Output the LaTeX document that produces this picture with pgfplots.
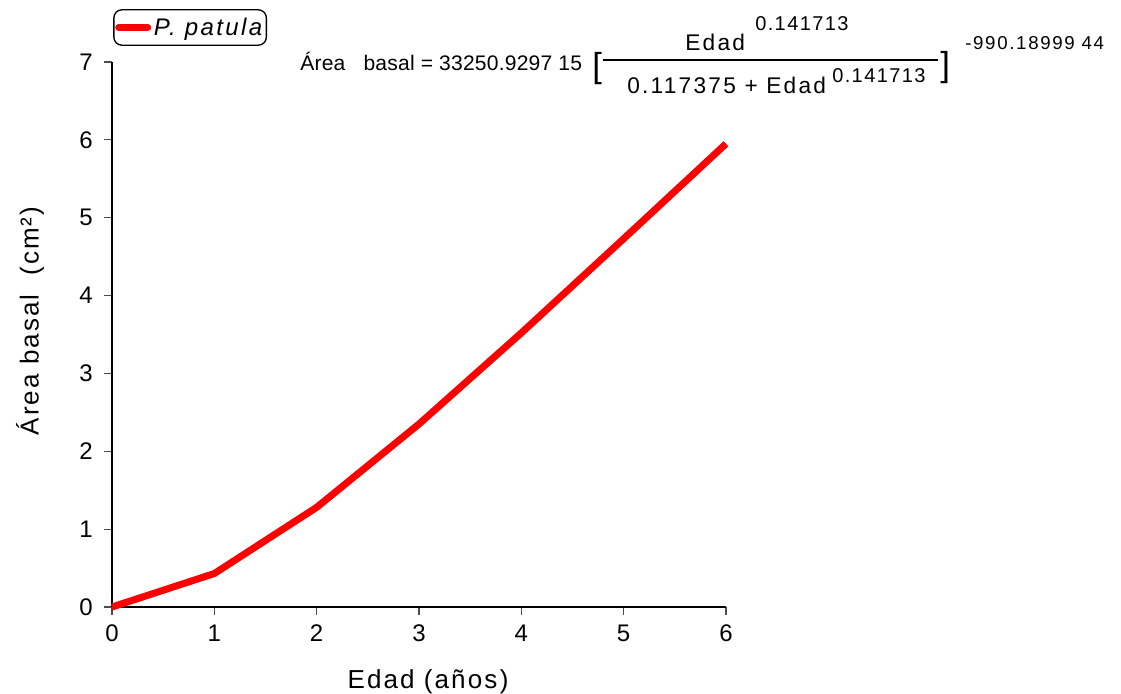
\documentclass[border=0pt]{standalone}
\usepackage{fontspec}
\setmainfont{Liberation Sans}
\usepackage{pgfplots}
\pgfplotsset{compat=1.18}
\newcommand\fs[2]{\fontsize{#1}{#1}\selectfont\addfontfeature{LetterSpace=#2}}
\begin{document}
\begin{tikzpicture}[x=0.75pt,y=-0.75pt]
\path[use as bounding box] (0,0) rectangle (1121,693);
\begin{axis}[
  at={(84pt,-455.25pt)}, anchor=south west,
  scale only axis, width=460.5pt, height=408.75pt,
  xmin=0, xmax=6, ymin=0, ymax=7,
  axis lines=left, axis line style={line width=1pt,-},
  xtick={0,...,6}, ytick={0,...,7},
  tick style={line width=0.8pt, black!70},
  tick align=outside, major tick length=6pt,
  /pgf/number format/assume math mode=true,
  tick label style={font=\fontsize{18}{18}\selectfont},
  xticklabel style={yshift=-4pt},
  yticklabel style={xshift=-5pt},
  xlabel={Edad (años\kern2pt)}, ylabel={Área basal\ \ (cm²)},
  label style={font=\fs{19.5}{8}},
  xlabel style={at={(axis description cs:0.515,-0.138)}, anchor=center},
  ylabel style={at={(axis description cs:-0.1336,0.525)}, anchor=center},
  legend style={at={(axis description cs:0.002,1.097)}, anchor=north west,
    rounded corners=6pt, draw=black, line width=1pt, inner xsep=1pt, inner ysep=4pt,
    font=\fs{18}{10}\itshape,
    legend cell align=left},
  legend image code/.code={\draw[#1, line width=5pt, line cap=round] (0pt,0pt) -- (22pt,0pt);},
  clip=false,
]
\addplot[red, line width=5.25pt, line join=round] coordinates {
 (0,0) (1,0.43) (2,1.28) (3,2.35) (4,3.52) (5,4.73) (6,5.95)
};
\addlegendentry{P. patula}
\end{axis}
\node[anchor=base west, inner sep=0, font=\fs{15.8}{1}] at (300,70) {Área\ \ \ basal = 33250.9297 15};
\node[anchor=base west, inner sep=0, font=\fontsize{26}{28}\selectfont] at (592,77) {[};
\draw[line width=1pt] (603,60) -- (938,60);
\node[anchor=base west, inner sep=0, font=\fs{17}{10}] at (685,50) {Edad};
\node[anchor=base west, inner sep=0, font=\fs{15}{7}] at (755,30) {0.141713};
\node[anchor=base west, inner sep=0, font=\fs{17}{10}] at (627,93) {0.117375 + Edad};
\node[anchor=base west, inner sep=0, font=\fs{15}{7}] at (832,82) {0.141713};
\node[anchor=base west, inner sep=0, font=\fontsize{26}{28}\selectfont] at (940,76) {]};
\node[anchor=base west, inner sep=0, font=\fs{14}{9}] at (965,49) {-990.18999 44};
\end{tikzpicture}
\end{document}
